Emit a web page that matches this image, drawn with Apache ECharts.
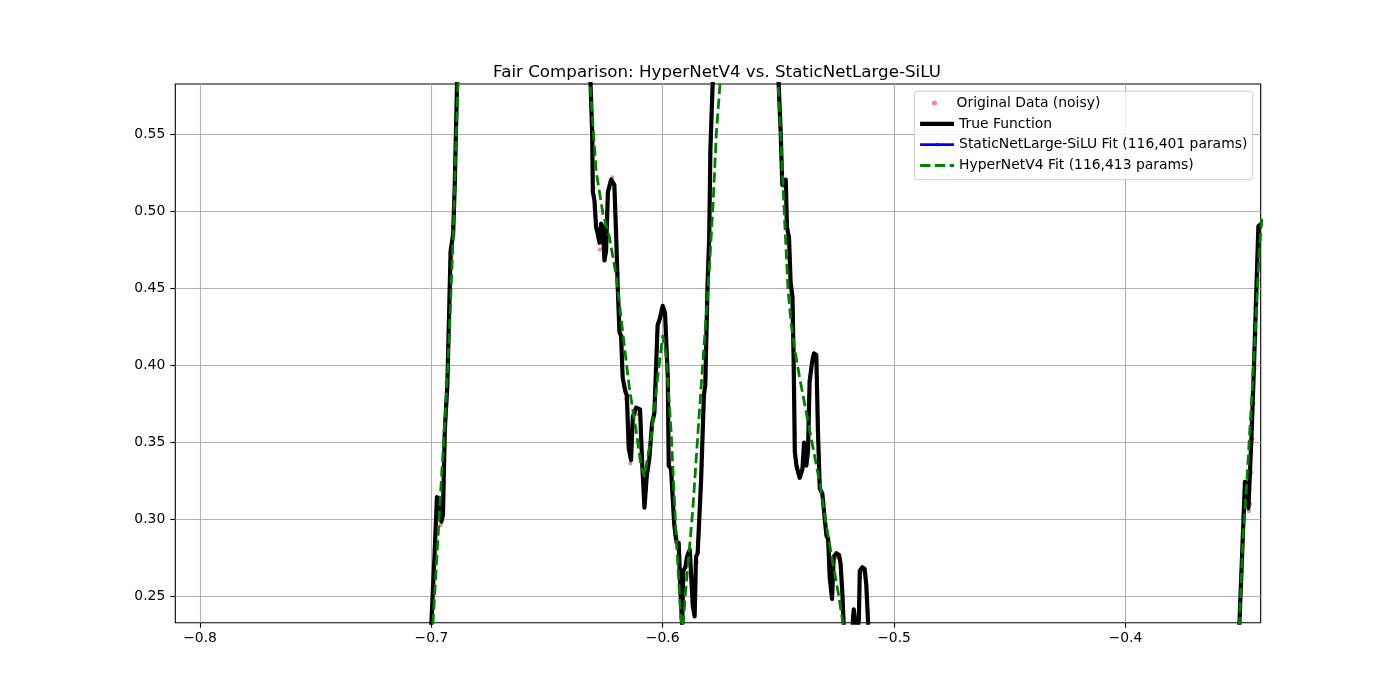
<!DOCTYPE html>
<html>
<head>
<meta charset="utf-8">
<script src="https://cdn.jsdelivr.net/npm/echarts@6/dist/echarts.min.js"></script>
<style>
  html, body { margin: 0; padding: 0; background: #fff; }
  #main { width: 1400px; height: 700px; }
</style>
</head>
<body>
<div id="main"></div>
<script>
// tick labels
var xTicks = [-0.8, -0.7, -0.6, -0.5, -0.4];
var yTicks = [0.25, 0.30, 0.35, 0.40, 0.45, 0.50, 0.55];

// true function, one array per visible piece
var trueSeg1 = [
  [-0.7004, 0.2200], [-0.7000, 0.2327], [-0.6986, 0.2778], [-0.6976, 0.3142],
  [-0.6964, 0.3131], [-0.6957, 0.2983], [-0.6950, 0.3028], [-0.6942, 0.3575],
  [-0.6931, 0.3871], [-0.6921, 0.4486], [-0.6917, 0.4737], [-0.6906, 0.4851],
  [-0.6899, 0.5170], [-0.6889, 0.5830], [-0.6886, 0.6000]
];
var trueSeg2 = [
  [-0.6316, 0.6000], [-0.6312, 0.5825], [-0.6305, 0.5511], [-0.6302, 0.5124],
  [-0.6295, 0.5067], [-0.6288, 0.4896], [-0.6281, 0.4851], [-0.6273, 0.4794],
  [-0.6266, 0.4919], [-0.6259, 0.4896], [-0.6252, 0.4680], [-0.6245, 0.4737],
  [-0.6237, 0.5124], [-0.6223, 0.5204], [-0.6209, 0.5170], [-0.6201, 0.4828],
  [-0.6194, 0.4486], [-0.6187, 0.4213], [-0.6180, 0.4190], [-0.6173, 0.3917],
  [-0.6161, 0.3826], [-0.6155, 0.3803], [-0.6147, 0.3461], [-0.6137, 0.3382],
  [-0.6129, 0.3666], [-0.6115, 0.3723], [-0.6098, 0.3712], [-0.6089, 0.3370],
  [-0.6079, 0.3074], [-0.6069, 0.3279], [-0.6058, 0.3393], [-0.6046, 0.3621],
  [-0.6036, 0.3689], [-0.6022, 0.4259], [-0.6012, 0.4304], [-0.6000, 0.4384],
  [-0.5990, 0.4338], [-0.5978, 0.3917], [-0.5974, 0.3347], [-0.5964, 0.3325],
  [-0.5950, 0.2960], [-0.5940, 0.2846], [-0.5931, 0.2846], [-0.5921, 0.2459],
  [-0.5916, 0.2310], [-0.5911, 0.2664], [-0.5902, 0.2687], [-0.5895, 0.2755],
  [-0.5883, 0.2801], [-0.5876, 0.2790], [-0.5870, 0.2436], [-0.5862, 0.2368],
  [-0.5856, 0.2755], [-0.5849, 0.2778], [-0.5834, 0.3256], [-0.5822, 0.3803],
  [-0.5816, 0.3871], [-0.5806, 0.4532], [-0.5799, 0.4828], [-0.5794, 0.5397],
  [-0.5784, 0.5830], [-0.5782, 0.6000]
];
var trueSeg3 = [
  [-0.5502, 0.6000], [-0.5499, 0.5830], [-0.5490, 0.5511], [-0.5483, 0.5170],
  [-0.5468, 0.5204], [-0.5463, 0.4896], [-0.5454, 0.4828], [-0.5447, 0.4532],
  [-0.5439, 0.4441], [-0.5434, 0.4031], [-0.5429, 0.3439], [-0.5422, 0.3347],
  [-0.5408, 0.3268], [-0.5396, 0.3325], [-0.5389, 0.3496], [-0.5379, 0.3347],
  [-0.5372, 0.3439], [-0.5365, 0.3894], [-0.5353, 0.4031], [-0.5346, 0.4076],
  [-0.5336, 0.4065], [-0.5329, 0.3575], [-0.5321, 0.3199], [-0.5310, 0.3165],
  [-0.5300, 0.3006], [-0.5292, 0.2892], [-0.5285, 0.2869], [-0.5278, 0.2619],
  [-0.5268, 0.2482], [-0.5261, 0.2755], [-0.5249, 0.2778], [-0.5238, 0.2767],
  [-0.5231, 0.2710], [-0.5223, 0.2505], [-0.5218, 0.2320], [-0.5214, 0.2200],
  [-0.5185, 0.2150], [-0.5177, 0.2360], [-0.5174, 0.2413], [-0.5170, 0.2360],
  [-0.5162, 0.2200], [-0.5152, 0.2350], [-0.5148, 0.2664], [-0.5137, 0.2687],
  [-0.5127, 0.2676], [-0.5120, 0.2573], [-0.5112, 0.2320], [-0.5108, 0.2150]
];
var trueSeg4 = [
  [-0.3509, 0.2200], [-0.3507, 0.2327], [-0.3497, 0.2703], [-0.3487, 0.3091],
  [-0.3483, 0.3242], [-0.3473, 0.3231], [-0.3468, 0.3070], [-0.3461, 0.3070],
  [-0.3454, 0.3566], [-0.3444, 0.3997], [-0.3435, 0.4428], [-0.3425, 0.4902],
  [-0.3410, 0.4920]
];

// HyperNetV4 fit
var hyperSeg1 = [
  [-0.6996, 0.2220], [-0.6993, 0.2327], [-0.6964, 0.3074], [-0.6935, 0.3803],
  [-0.6921, 0.4259], [-0.6906, 0.4828], [-0.6895, 0.5397], [-0.6885, 0.5830],
  [-0.6881, 0.6000]
];
var hyperSeg2 = [
  [-0.6318, 0.6000], [-0.6314, 0.5825], [-0.6288, 0.5261], [-0.6259, 0.4987],
  [-0.6230, 0.4828], [-0.6201, 0.4577], [-0.6173, 0.4213], [-0.6144, 0.3849],
  [-0.6115, 0.3575], [-0.6094, 0.3347], [-0.6079, 0.3279], [-0.6050, 0.3530],
  [-0.6022, 0.3917], [-0.6000, 0.4190], [-0.5986, 0.4076], [-0.5964, 0.3575],
  [-0.5942, 0.2892], [-0.5921, 0.2345], [-0.5912, 0.2300], [-0.5903, 0.2500],
  [-0.5885, 0.2801], [-0.5870, 0.3060], [-0.5847, 0.3575], [-0.5826, 0.4030],
  [-0.5804, 0.4486], [-0.5782, 0.5056], [-0.5768, 0.5511], [-0.5752, 0.5830],
  [-0.5748, 0.6000]
];
var hyperSeg3 = [
  [-0.5504, 0.6000], [-0.5501, 0.5830], [-0.5487, 0.5397], [-0.5473, 0.4942],
  [-0.5458, 0.4486], [-0.5444, 0.4259], [-0.5429, 0.4099], [-0.5408, 0.3917],
  [-0.5379, 0.3689], [-0.5350, 0.3461], [-0.5321, 0.3233], [-0.5293, 0.2960],
  [-0.5264, 0.2710], [-0.5242, 0.2527], [-0.5220, 0.2320], [-0.5215, 0.2250]
];
var hyperSeg4 = [
  [-0.3510, 0.2200], [-0.3507, 0.2327], [-0.3490, 0.2919], [-0.3475, 0.3242],
  [-0.3454, 0.3781], [-0.3435, 0.4320], [-0.3421, 0.4752], [-0.3410, 0.4950]
];

// StaticNetLarge-SiLU fit: not visible inside this window
var staticFit = [];

// noisy samples (red dots)
var noisyData = [
  [-0.6996, 0.245], [-0.6990, 0.262], [-0.6985, 0.282], [-0.6978, 0.305], [-0.6972, 0.309],
  [-0.6966, 0.300], [-0.6960, 0.296], [-0.6952, 0.318], [-0.6946, 0.338], [-0.6940, 0.360],
  [-0.6934, 0.377], [-0.6928, 0.400], [-0.6923, 0.428], [-0.6918, 0.452], [-0.6913, 0.470],
  [-0.6908, 0.490], [-0.6902, 0.508], [-0.6897, 0.530], [-0.6893, 0.550], [-0.6889, 0.572],
  [-0.6309, 0.575], [-0.6305, 0.560], [-0.6302, 0.545], [-0.6298, 0.515], [-0.6293, 0.502],
  [-0.6288, 0.492], [-0.6280, 0.483], [-0.6272, 0.475], [-0.6264, 0.488], [-0.6256, 0.482],
  [-0.6250, 0.468], [-0.6242, 0.490], [-0.6236, 0.508], [-0.6228, 0.515], [-0.6218, 0.522],
  [-0.6208, 0.510], [-0.6200, 0.488], [-0.6193, 0.460], [-0.6188, 0.430], [-0.6182, 0.418],
  [-0.6175, 0.400], [-0.6168, 0.386], [-0.6160, 0.378], [-0.6153, 0.372], [-0.6148, 0.350],
  [-0.6140, 0.336], [-0.6132, 0.352], [-0.6125, 0.368], [-0.6112, 0.368], [-0.6100, 0.368],
  [-0.6093, 0.352], [-0.6085, 0.325], [-0.6078, 0.310], [-0.6072, 0.318], [-0.6064, 0.332],
  [-0.6055, 0.345], [-0.6048, 0.357], [-0.6040, 0.366], [-0.6030, 0.395], [-0.6024, 0.420],
  [-0.6016, 0.428], [-0.6005, 0.435], [-0.5996, 0.437], [-0.5988, 0.425], [-0.5982, 0.405],
  [-0.5976, 0.362], [-0.5970, 0.336], [-0.5960, 0.325], [-0.5954, 0.305], [-0.5946, 0.290],
  [-0.5936, 0.282], [-0.5928, 0.268], [-0.5923, 0.250], [-0.5915, 0.242], [-0.5908, 0.264],
  [-0.5900, 0.272], [-0.5890, 0.278], [-0.5881, 0.276], [-0.5874, 0.262], [-0.5866, 0.240],
  [-0.5858, 0.250], [-0.5852, 0.272], [-0.5845, 0.290], [-0.5838, 0.312], [-0.5830, 0.335],
  [-0.5822, 0.372], [-0.5814, 0.392], [-0.5808, 0.430], [-0.5803, 0.462], [-0.5798, 0.492],
  [-0.5795, 0.520], [-0.5791, 0.548], [-0.5787, 0.570],
  [-0.5496, 0.575], [-0.5492, 0.558], [-0.5488, 0.540], [-0.5484, 0.522], [-0.5476, 0.516],
  [-0.5468, 0.512], [-0.5462, 0.494], [-0.5456, 0.480], [-0.5450, 0.465], [-0.5444, 0.450],
  [-0.5438, 0.435], [-0.5434, 0.415], [-0.5431, 0.385], [-0.5428, 0.355], [-0.5422, 0.338],
  [-0.5414, 0.330], [-0.5404, 0.328], [-0.5394, 0.334], [-0.5387, 0.345], [-0.5381, 0.338],
  [-0.5374, 0.348], [-0.5368, 0.372], [-0.5362, 0.392], [-0.5352, 0.402], [-0.5342, 0.405],
  [-0.5334, 0.392], [-0.5329, 0.365], [-0.5324, 0.338], [-0.5316, 0.318], [-0.5306, 0.310],
  [-0.5298, 0.298], [-0.5290, 0.290], [-0.5282, 0.280], [-0.5276, 0.262], [-0.5270, 0.250],
  [-0.5264, 0.262], [-0.5256, 0.275], [-0.5246, 0.275], [-0.5236, 0.274], [-0.5229, 0.265],
  [-0.5222, 0.250], [-0.5217, 0.236], [-0.5172, 0.238], [-0.5145, 0.262], [-0.5135, 0.266],
  [-0.5126, 0.264], [-0.5118, 0.252], [-0.5112, 0.240],
  [-0.3506, 0.238], [-0.3502, 0.250], [-0.3498, 0.265], [-0.3493, 0.282], [-0.3488, 0.300],
  [-0.3484, 0.318], [-0.3478, 0.322], [-0.3472, 0.316], [-0.3466, 0.305], [-0.3460, 0.310],
  [-0.3455, 0.330], [-0.3450, 0.352], [-0.3446, 0.375], [-0.3441, 0.398], [-0.3437, 0.420],
  [-0.3432, 0.440], [-0.3428, 0.455], [-0.3424, 0.472], [-0.3420, 0.488]
];

var NAME_NOISY = 'Original Data (noisy)';
var NAME_TRUE = 'True Function';
var NAME_STATIC = 'StaticNetLarge-SiLU Fit (116,401 params)';
var NAME_HYPER = 'HyperNetV4 Fit (116,413 params)';

var FONT = 'DejaVu Sans';
var minus = function (s) { return s.replace('-', '\u2212'); };

var series = [{
  name: NAME_NOISY,
  type: 'scatter',
  data: noisyData,
  symbol: 'circle',
  symbolSize: 4,
  itemStyle: { color: 'rgba(255,0,0,0.6)' },
  silent: true
}];
[trueSeg1, trueSeg2, trueSeg3, trueSeg4].forEach(function (seg) {
  series.push({
    name: NAME_TRUE, type: 'line', data: seg, symbol: 'none',
    lineStyle: { color: '#000', width: 4.2, join: 'round', cap: 'butt' },
    itemStyle: { color: '#000' }
  });
});
series.push({
  name: NAME_STATIC, type: 'line', data: staticFit, symbol: 'none',
  lineStyle: { color: '#0000ff', width: 2.8 },
  itemStyle: { color: '#0000ff' }
});
[hyperSeg1, hyperSeg2, hyperSeg3, hyperSeg4].forEach(function (seg) {
  series.push({
    name: NAME_HYPER, type: 'line', data: seg, symbol: 'none',
    lineStyle: { color: '#008000', width: 2.8, type: [10.3, 4.5], cap: 'butt', join: 'round' },
    itemStyle: { color: '#008000' }
  });
});

var chart = echarts.init(document.getElementById('main'), null, { renderer: 'canvas' });
chart.setOption({
  animation: false,
  backgroundColor: '#fff',
  title: {
    text: 'Fair Comparison: HyperNetV4 vs. StaticNetLarge-SiLU',
    left: 712, top: 59, textAlign: 'center',
    textStyle: { fontFamily: FONT, fontSize: 16.7, fontWeight: 'normal', color: '#000' }
  },
  grid: {
    left: 175.3, top: 84, width: 1085.4, height: 538.7,
    show: true, borderColor: '#000', borderWidth: 1.1, backgroundColor: 'transparent',
    outerBoundsMode: 'none'
  },
  xAxis: {
    type: 'value', min: -0.8107, max: -0.3415, splitNumber: 5,
    axisLine: { show: false },
    axisTick: { show: true, inside: false, length: 5, customValues: xTicks,
      lineStyle: { color: '#000', width: 1.1 } },
    axisLabel: { customValues: xTicks, margin: 9, color: '#000', fontFamily: FONT, fontSize: 13.9,
      formatter: function (v) { return minus(v.toFixed(1)); } },
    splitLine: { show: true, lineStyle: { color: '#b0b0b0', width: 1.1 } }
  },
  yAxis: {
    type: 'value', min: 0.2327, max: 0.5825, splitNumber: 7,
    axisLine: { show: false },
    axisTick: { show: true, inside: false, length: 5, customValues: yTicks,
      lineStyle: { color: '#000', width: 1.1 } },
    axisLabel: { customValues: yTicks, margin: 10, color: '#000', fontFamily: FONT, fontSize: 13.9,
      formatter: function (v) { return v.toFixed(2); } },
    splitLine: { show: true, lineStyle: { color: '#b0b0b0', width: 1.1 } }
  },
  graphic: [{
    type: 'rect', z: 3,
    shape: { x: 914.3, y: 91.3, width: 338.4, height: 88.4, r: 3 },
    style: { fill: 'rgba(255,255,255,0.8)', stroke: '#cccccc', lineWidth: 1 }
  }],
  legend: [{
    data: [{ name: NAME_NOISY, icon: 'circle' }],
    orient: 'vertical', left: 932, top: 92.5, padding: 0,
    itemWidth: 34, itemHeight: 5, itemGap: 0, selectedMode: false,
    textStyle: { fontFamily: FONT, fontSize: 13.9, lineHeight: 21, color: '#000' }
  }, {
    data: [
      { name: NAME_TRUE, lineStyle: { width: 4.2 } },
      { name: NAME_STATIC, lineStyle: { width: 2.8 } },
      { name: NAME_HYPER, lineStyle: { width: 2.8 } }
    ],
    orient: 'vertical', left: 918, top: 113.5, padding: 0,
    itemWidth: 34, itemHeight: 4, itemGap: 0, selectedMode: false,
    textStyle: { fontFamily: FONT, fontSize: 13.9, lineHeight: 20.8, color: '#000' }
  }],
  series: series
});
</script>
</body>
</html>
